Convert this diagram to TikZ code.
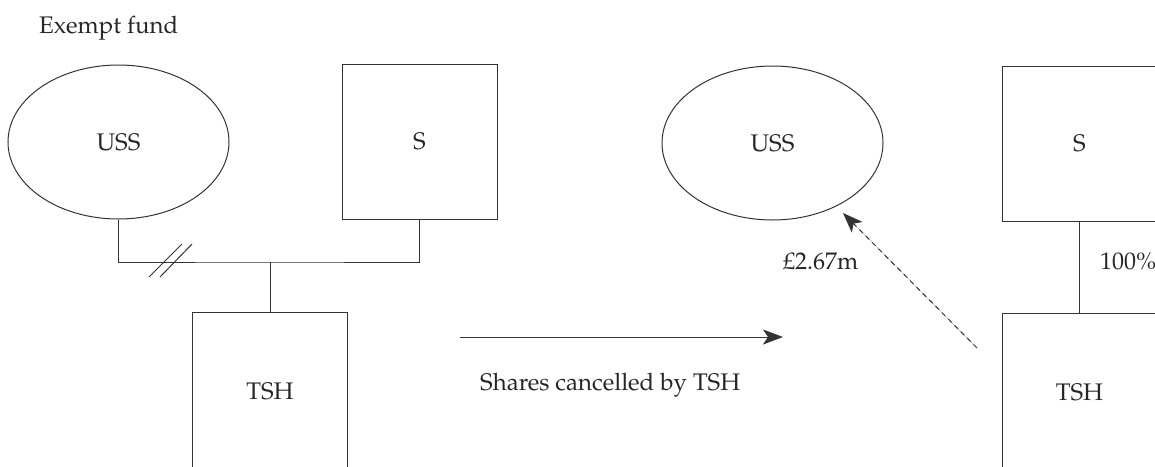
\documentclass[tikz,border=0pt]{standalone}
\usepackage[T1]{fontenc}
\usepackage{mathpazo}
\usetikzlibrary{shapes.geometric,arrows.meta}
\begin{document}
\begin{tikzpicture}[x=1pt,y=-1pt,
  every node/.style={font=\fontsize{24}{28}\selectfont, text=black!85},
  line/.style={line width=1pt, draw=black!80},
  oval/.style={ellipse, line, minimum width=221pt, minimum height=154pt, inner sep=0pt},
  sbox/.style={rectangle, line, minimum width=155pt, minimum height=155pt, inner sep=0pt},
  tbox/.style={rectangle, line, minimum width=155pt, minimum height=158pt, inner sep=0pt},
  lbl/.style={anchor=base west, inner sep=0pt},
  tip/.style={-{Stealth[length=20pt,width=15pt,inset=5pt]}}]
\useasboundingbox (0,0) rectangle (1155,466);
\clip (0,0) rectangle (1155,466);
% left side
\node[lbl] (ef) at (39,33) {Exempt fund};
\node[oval] (uss1) at (118.5,142) {USS};
\node[sbox] (s1) at (419.5,141.5) {S};
\node[tbox] (tsh1) at (270,391) {TSH};
\coordinate (j) at (270,262);
\draw[line] (uss1.south) |- (j) -| (s1.south);
\draw[line] (j) -- (tsh1.north);
\draw[line] (149,277) -- (182,244);
\draw[line] (160,277) -- (192,244);
% middle arrow
\coordinate (a1) at (460,337);
\coordinate (a2) at (783,337);
\draw[line, tip, fill=black!85] (a1) -- (a2);
\node[lbl] (shares) at (480,390) {Shares cancelled by TSH};
% right side
\node[oval] (uss2) at (772.5,143) {USS};
\node[sbox] (s2) at (1079.5,143.5) {S};
\node[tbox] (tsh2) at (1079.5,392) {TSH};
\draw[line] (s2.south) -- (tsh2.north);
\node[lbl] (pct) at (1100,269) {100\%};
\node[lbl] (amt) at (783,269) {\pounds2.67m};
\coordinate (d1) at (977,348);
\coordinate (d2) at (843,213);
\draw[line, tip, dash pattern=on 5pt off 4pt, fill=black!85] (d1) -- (d2);
\end{tikzpicture}
\end{document}
